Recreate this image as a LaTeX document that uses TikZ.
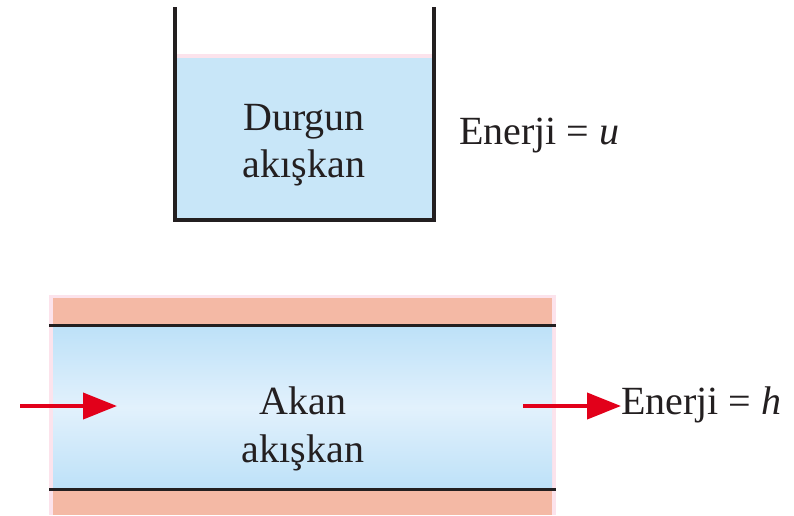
\documentclass[tikz,border=0pt]{standalone}
\usepackage{fontspec}
\setmainfont{Liberation Serif}
\usetikzlibrary{arrows.meta}
\definecolor{water}{HTML}{C8E6F8}
\definecolor{waterlight}{HTML}{E2F1FC}
\definecolor{waterdark}{HTML}{BDE1F8}
\definecolor{salmon}{HTML}{F4B9A5}
\definecolor{pinkedge}{HTML}{FCE3EC}
\definecolor{arrowred}{HTML}{E2001A}
\definecolor{ink}{HTML}{231F20}
\tikzset{
  lbl/.style={font=\fontsize{40}{47}\selectfont, text=ink, inner sep=0pt, anchor=base},
  wall/.style={draw=ink, line width=4pt},
  flowarrow/.style={draw=arrowred, line width=4pt, -{Triangle[length=34pt,width=26pt]}},
}
\begin{document}
\begin{tikzpicture}[x=1pt,y=-1pt]
\useasboundingbox (0,0) rectangle (794,515);
% ---- top tank ----
\fill[water] (175,56) rectangle (434,220);
\fill[pinkedge] (175,54) rectangle (434,58);
\draw[wall] (175,7) -- (175,220) -- (434,220) -- (434,7);
\node[lbl] (d1) at (304,130) {Durgun};
\node[lbl] (d2) at (304,177) {akışkan};
\node[lbl, anchor=base west] (eu) at (459,144) {Enerji = \textit{u}};
% ---- pipe ----
\fill[pinkedge] (49,295) rectangle (556,515);
\fill[salmon] (53,298) rectangle (552,515);
\shade[top color=waterdark, bottom color=waterdark, middle color=waterlight] (53,326) rectangle (552,489);
\draw[ink, line width=3pt] (49,325.5) -- (556,325.5);
\draw[ink, line width=3pt] (49,489.5) -- (556,489.5);
\node[lbl] (a1) at (303,414) {Akan};
\node[lbl] (a2) at (303,462) {akışkan};
\node[lbl, anchor=base west] (eh) at (621,414) {Enerji = \textit{h}};
\coordinate (inS) at (20,406);
\coordinate (inE) at (117,406);
\coordinate (outS) at (523,406);
\draw[flowarrow] (inS) -- (inE);
\draw[flowarrow] (outS) -- (eh.west |- outS);
\end{tikzpicture}
\end{document}
